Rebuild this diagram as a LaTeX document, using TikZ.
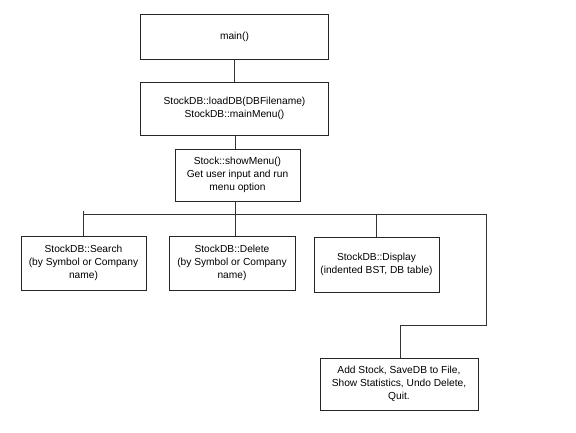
\documentclass[tikz,border=0pt]{standalone}
\usepackage{fontspec}
\setmainfont{Liberation Sans}
\begin{document}
\begin{tikzpicture}[x=1pt,y=-1pt,
  box/.style={draw=black!85,line width=0.8pt,align=center,inner sep=0pt,
    font=\fontsize{10.2pt}{13pt}\selectfont},
  conn/.style={draw=black!80,line width=0.8pt}]
\useasboundingbox[fill=white] (0,0) rectangle (576,432);
\node[box,minimum width=188pt,minimum height=45pt] (main) at (234.5,36.5) {main()};
\node[box,minimum width=188pt,minimum height=53pt] (load) at (234.5,108.5) {StockDB::loadDB(DBFilename)\\StockDB::mainMenu()};
\node[box,minimum width=125pt,minimum height=52pt] (show) at (237.5,175) {Stock::showMenu()\\Get user input and run\\menu option};
\node[box,minimum width=125pt,minimum height=54pt] (search) at (83.5,263) {StockDB::Search\\(by Symbol or Company\\name)};
\node[box,minimum width=126pt,minimum height=54pt] (delete) at (232,263) {StockDB::Delete\\(by Symbol or Company\\name)};
\node[box,minimum width=125pt,minimum height=55pt] (display) at (376.5,264.5) {StockDB::Display\\(indented BST, DB table)};
\node[box,minimum width=158pt,minimum height=52pt] (last) at (399,384) {Add Stock, SaveDB to File,\\Show Statistics, Undo Delete,\\Quit.};
\coordinate (busC) at (235,214);
\coordinate (busL) at (83,214);
\coordinate (busR) at (486,214);
\coordinate (tick) at (83,211);
\coordinate (e1) at (486,325);
\coordinate (e2) at (400,325);
\draw[conn] (main.south) -- (load.north);
\draw[conn] (busC |- load.south) -- (busC |- show.north);
\draw[conn] (busC |- show.south) -- (busC);
\draw[conn] (busL) -- (busR);
\draw[conn] (tick) -- (tick |- search.north);
\draw[conn] (busC) -- (busC |- delete.north);
\draw[conn] (display.north |- busC) -- (display.north);
\draw[conn] (busR) -- (e1) -- (e2) -- (e2 |- last.north);
\end{tikzpicture}
\end{document}
